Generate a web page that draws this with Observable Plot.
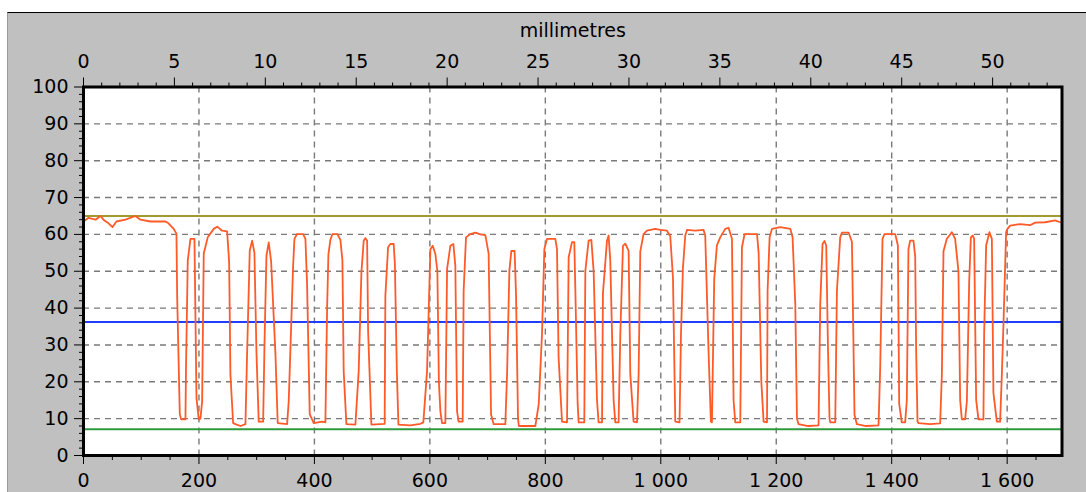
<!DOCTYPE html>
<html>
<head>
<meta charset="utf-8">
<script src="https://cdn.jsdelivr.net/npm/d3@7"></script>
<script src="https://cdn.jsdelivr.net/npm/@observablehq/plot@0.6"></script>
<style>
  html, body { margin: 0; padding: 0; background: #ffffff; }
  #wrap { position: relative; width: 1086px; height: 492px; overflow: hidden; }
  #panel { position: absolute; left: 7px; top: 12px; right: 0; bottom: 0; background: #c0c0c0; border-top: 1px solid #000; border-left: 1px solid #9a9a9a; }
  #chart { position: absolute; left: 0; top: 0; }
</style>
</head>
<body>
<div id="wrap"><div id="panel"></div><div id="chart"></div></div>
<script>
// Signal trace (sample index vs. reflectance %)
const signalX = [0,8.7,20.8,29.4,34.6,43.3,50.2,57.1,72.7,90,98.7,116,133.3,142,147.2,155.8,161,162.3,166.8,169.2,176.6,177.5,180.6,185.3,192.2,192.7,195.7,199.7,202.6,205.5,208.3,215.2,225.6,231.5,240.2,248.8,252.3,254.5,259.2,263.2,271.9,280.5,283.5,288,292.1,296.1,299.6,303.5,311.2,313.4,316.9,320.9,325,332.5,336.4,352.7,355.5,363.1,365.4,370,380.4,384.4,387.3,391.9,398.8,413.3,419,422,424.2,427.7,431.2,439.8,445,448.5,450.7,455.4,471,476.7,481.4,485.4,488.3,491.3,493,498.7,521.7,522.9,527.6,531.6,537.3,539.4,542.8,545.5,566.2,583.6,588.7,595.1,600.9,604.9,609.5,613,615.6,618.2,621.1,626.8,629.8,635.5,640.7,644.1,647.1,649.8,656.8,658.5,662.6,670.1,678.7,687.4,696.1,701.8,706,710.5,730.7,733.7,737.7,741.1,746.8,749.2,752.7,754.1,782.7,788.6,794.2,798.3,802.9,817.3,820.2,823,828.9,837.6,840.4,846.2,850.2,852,856,857.7,867.5,869.3,875,879.7,883.7,889.5,892.3,898.2,899.8,906.8,909.6,912.5,918.3,921.2,926.9,929.9,934.5,938.5,944.3,947.2,952.9,958.8,961.6,964.5,970.2,976.1,990.4,999.1,1010.7,1016.4,1021.1,1025.1,1032.5,1035,1038.4,1042.4,1045.4,1059.7,1074.1,1077,1082.8,1086.8,1088.6,1092.6,1097.2,1103,1111.7,1117.4,1123.3,1126.1,1129,1137.7,1138.6,1140.6,1145.2,1166.7,1169.5,1174.1,1178.1,1184,1185,1188.5,1192.6,1207,1224.4,1228.3,1233,1235.9,1238.7,1255.5,1273.3,1276.2,1280.2,1283.6,1286.6,1289.5,1292.3,1293.5,1302.2,1305.1,1310.8,1313.8,1325.2,1331.1,1335.6,1339.7,1355.8,1377.2,1380.1,1384.1,1387.5,1406.1,1410.7,1413,1417.5,1423.3,1426.2,1429,1432,1437.7,1440.7,1442.4,1444.7,1446.3,1466.6,1483.9,1486.9,1489.7,1495.5,1504.2,1509.9,1515.6,1518.6,1521.5,1527.2,1530.2,1534.2,1537.1,1540.6,1542.8,1546.3,1550.3,1558.9,1560.1,1563.6,1569.3,1573.5,1576.2,1582.1,1587.8,1590.8,1593.5,1598.2,1600.5,1605.2,1622.5,1639.8,1648.5,1665.8,1683.1,1691.8];
const signalY = [63.5,64.5,64,65,64,63,62,63.5,64,65,64,63.5,63.5,63.5,63,61.6,60.2,42.9,11.2,9.8,9.8,22.9,52.9,58.8,58.8,52.9,15.6,9.8,10,14.7,54.8,59.2,61.5,62.1,61,60.8,52.4,22,8.8,8.5,8,8.5,28.3,55.6,58.3,55,28,9.2,9.2,29.2,54.2,57.8,52.7,27.5,8.8,8.5,14.7,51.5,58.8,60.1,60.1,58.8,46.5,11.2,8.8,9.2,9,40,54.5,58.5,60.1,60.1,58.5,53,22.9,8.5,8.4,22.9,49.7,58.3,59,58.3,33.8,8.4,8.6,43.3,56.5,57.4,57.4,52,22.9,8.4,8.2,8.6,9,22.9,56,56.9,54.7,50,20,12,8.8,8.8,50.6,56.9,57.4,51.5,12,9.2,9.2,44.7,59.2,60.1,60.5,60,59.8,54.8,11.1,8.5,8.5,22,50.1,55.5,55.5,43.8,10,8,8,14,32.9,56,58.8,58.8,56,26.5,9.2,9,53.8,57.9,57.9,45,14,9,9,50.1,58.3,58.5,50,15,9,9,44,58.3,59.7,53,15,9,9,33,56.9,57.5,55.5,22,9.2,9,22,55.4,60.1,61,61.5,61.2,61,59.5,48.3,9.2,9,33,51,59.7,61.2,61,61.2,59.7,28,9.2,9,48,57,59.2,61.5,61.8,58.8,15,9,9,23.8,56.5,60.1,60.1,55,20.2,9.2,9,44.7,59.2,61.5,62,61.5,59.2,41,10,8.5,8,8.2,41,57.4,58.2,57,30,10,9,9,44.7,59.2,60.5,60.5,58,11,8.5,8,8.2,24,58.8,60.1,60.1,57,14,9,9,15,56,58.3,58.3,54,28,9.2,8.8,8.5,8.7,22,55.4,58.8,60.6,58.8,50,15,9.8,9.8,14.7,47,59.2,59.7,58.8,15,9.8,9.8,33,57,60.6,58.8,17,9.2,9.2,22,35,60.6,61.5,62.4,62.8,62.5,63.2,63.3,63.8,63.3];

// Threshold levels (%)
const levelNames  = ["maximum", "threshold", "minimum"];
const levelValues = [65, 36.2, 7.1];
const levelColors = ["#a39a2e", "#1f3cff", "#2e9a3c"];

// Axes / tick labels
const yTicks = [0, 10, 20, 30, 40, 50, 60, 70, 80, 90, 100];
const xTicks = [0, 200, 400, 600, 800, 1000, 1200, 1400, 1600];
const mmTicks = [0, 5, 10, 15, 20, 25, 30, 35, 40, 45, 50];
const dotsPerMm = 800 / 25.4; // 800 dpi scan
const xMax = 1695;

const signal = signalX.map((x, i) => ({x, y: signalY[i]}));
const levels = levelValues.map((v, i) => ({name: levelNames[i], value: v, color: levelColors[i]}));

const yMinor = d3.range(0, 101, 2).filter(v => v % 10 !== 0);
const xMinor = d3.range(0, xMax, 50).filter(v => v % 200 !== 0);
const mmMinor = d3.range(0, 54, 1).filter(v => v % 5 !== 0);
const fmtX = d => d3.format(",")(d).replace(/,/g, " ");

const gridStyle = {stroke: "#7a7a7a", strokeOpacity: 1, strokeWidth: 1.4, strokeDasharray: "6,5"};

const chart = Plot.plot({
  width: 1086,
  height: 492,
  marginLeft: 83,
  marginRight: 24.5,
  marginTop: 86.5,
  marginBottom: 37,
  style: {background: "transparent", fontFamily: "DejaVu Sans, sans-serif", fontSize: "19px", color: "#000", overflow: "visible"},
  x: {domain: [0, xMax], label: null},
  y: {domain: [0, 100], label: null},
  marks: [
    Plot.frame({fill: "white", stroke: null}),
    Plot.gridX(xTicks.slice(1), gridStyle),
    Plot.gridY(yTicks.slice(1, -1), gridStyle),
    Plot.ruleY(levels, {y: "value", stroke: "color", strokeWidth: 2}),
    Plot.line(signal, {x: "x", y: "y", stroke: "#ff5a28", strokeWidth: 1.8}),
    Plot.frame({stroke: "#000", strokeWidth: 3}),
    Plot.axisY(yTicks, {anchor: "left", tickSize: 9, tickPadding: 6, label: null, fontSize: 19}),
    Plot.axisY(yMinor, {anchor: "left", tickSize: 4, tickFormat: () => "", label: null}),
    Plot.axisX(xTicks, {anchor: "bottom", tickSize: 9, tickPadding: 9, tickFormat: fmtX, label: null, fontSize: 19}),
    Plot.axisX(xMinor, {anchor: "bottom", tickSize: 5, tickFormat: () => "", label: null}),
    Plot.axisX(mmTicks.map(m => m * dotsPerMm), {anchor: "top", tickSize: 10, tickPadding: 9, tickFormat: d => Math.round(d / dotsPerMm), label: null, fontSize: 19}),
    Plot.axisX(mmMinor.map(m => m * dotsPerMm), {anchor: "top", tickSize: 5, tickFormat: () => "", label: null}),
    Plot.text(["millimetres"], {frameAnchor: "top", dy: -56.5, lineAnchor: "middle", fontSize: 19, fill: "#000"})
  ]
});
document.getElementById("chart").appendChild(chart);
</script>
</body>
</html>
